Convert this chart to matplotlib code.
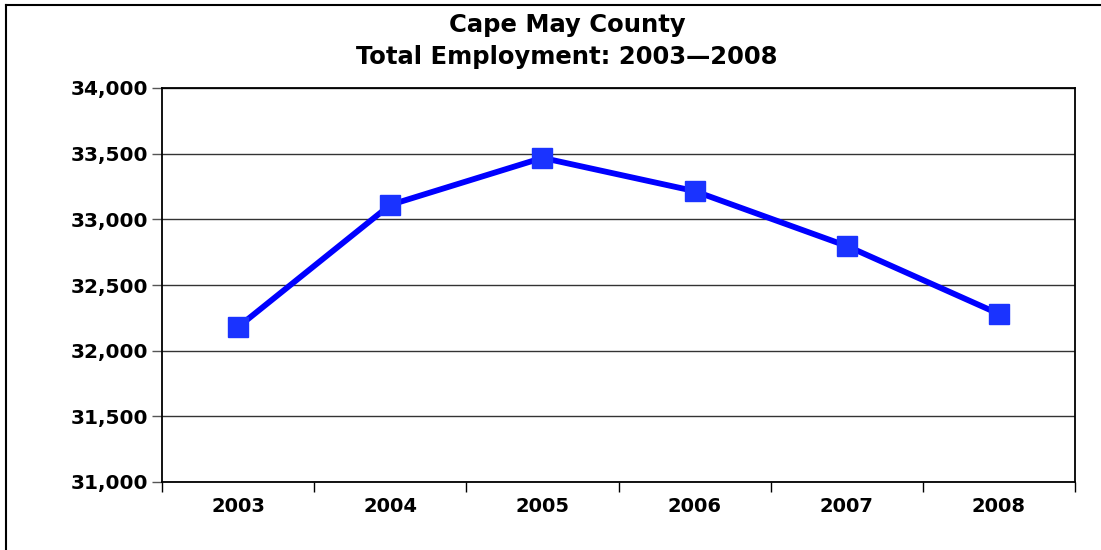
#!/usr/bin/env python3
"""Cape May County total employment, 2003-2008."""

import matplotlib

matplotlib.use("Agg")
import matplotlib.pyplot as plt
from matplotlib.lines import Line2D
from matplotlib.ticker import FuncFormatter, MultipleLocator

years = ["2003", "2004", "2005", "2006", "2007", "2008"]
employment = [32180, 33110, 33468, 33215, 32797, 32280]

title_lines = ["Cape May County", "Total Employment: 2003\u20142008"]

plt.rcParams["font.family"] = ["DejaVu Sans"]
plt.rcParams["font.weight"] = "bold"

fig = plt.figure(figsize=(11.01, 5.5), dpi=100)
ax = fig.add_axes([162 / 1101, 1 - 482 / 550, (1075 - 162) / 1101, (482 - 88) / 550])

x = list(range(len(years)))
ax.plot(x, employment, color="#0000ff", linewidth=4.2, zorder=3)
ax.plot(x, employment, linestyle="none", marker="s", markersize=14,
        markerfacecolor="#1a33ff", markeredgecolor="#1a33ff", zorder=4)

ax.set_xlim(-0.5, len(years) - 0.5)
ax.set_ylim(31000, 34000)
ax.yaxis.set_major_locator(MultipleLocator(500))
ax.yaxis.set_major_formatter(FuncFormatter(lambda v, _: f"{int(v):,}"))
ax.set_xticks(x)
ax.set_xticklabels(years)
ax.set_xticks([i - 0.5 for i in range(len(years) + 1)], minor=True)

ax.grid(axis="y", color="#333333", linewidth=1.0)
ax.set_axisbelow(True)
for side in ax.spines.values():
    side.set_color("black")
    side.set_linewidth(1.3)

ax.tick_params(axis="x", which="major", length=0, pad=11, labelsize=14)
ax.tick_params(axis="x", which="minor", length=7, width=1, color="black")
ax.tick_params(axis="y", length=7, width=1, color="#555555", pad=3, labelsize=14.5)
for lbl in ax.get_xticklabels() + ax.get_yticklabels():
    lbl.set_fontweight("bold")

fig.text(567 / 1101, 1 - 25 / 550, title_lines[0], ha="center", va="center",
         fontsize=17.5, fontweight="bold")
fig.text(567 / 1101, 1 - 57 / 550, title_lines[1], ha="center", va="center",
         fontsize=17.5, fontweight="bold")

# outer chart frame (left and top edges visible)
fig.add_artist(Line2D([6 / 1101, 6 / 1101], [0, 1 - 5 / 550],
                      transform=fig.transFigure, color="black", linewidth=1.5))
fig.add_artist(Line2D([6 / 1101, 1], [1 - 5 / 550, 1 - 5 / 550],
                      transform=fig.transFigure, color="black", linewidth=1.5))

fig.savefig("out.png", dpi=100)
